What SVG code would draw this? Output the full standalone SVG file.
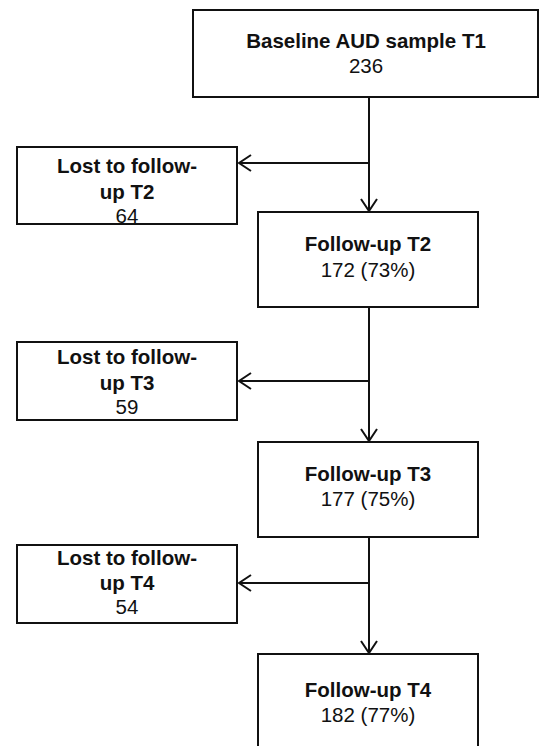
<svg xmlns="http://www.w3.org/2000/svg" width="541" height="746" viewBox="0 0 541 746">
<defs>
<marker id="arr" viewBox="0 0 14 18" refX="13" refY="9" markerWidth="14" markerHeight="18" markerUnits="userSpaceOnUse" orient="auto">
<path d="M1,1 L13,9 L1,17" fill="none" stroke="#111" stroke-width="2"/>
</marker>
<style>
.box{fill:#fff;stroke:#111;stroke-width:2}
.b{font-family:"Liberation Sans",Arial,sans-serif;font-weight:bold;font-size:20.5px;fill:#111;text-anchor:middle}
.r{font-family:"Liberation Sans",Arial,sans-serif;font-size:20.5px;fill:#111;text-anchor:middle}
.c{fill:none;stroke:#111;stroke-width:2}
</style>
</defs>
<rect width="541" height="746" fill="#fff"/>
<g id="connectors">
<line class="c" x1="369" y1="97" x2="369" y2="211" marker-end="url(#arr)"/>
<line class="c" x1="369" y1="163" x2="239" y2="163" marker-end="url(#arr)"/>
<line class="c" x1="369" y1="307" x2="369" y2="441" marker-end="url(#arr)"/>
<line class="c" x1="369" y1="381" x2="239" y2="381" marker-end="url(#arr)"/>
<line class="c" x1="369" y1="537" x2="369" y2="653" marker-end="url(#arr)"/>
<line class="c" x1="369" y1="583" x2="239" y2="583" marker-end="url(#arr)"/>
</g>
<g id="baseline">
<rect class="box" x="193" y="10" width="345" height="87"/>
<text class="b" x="366" y="48">Baseline AUD sample T1</text>
<text class="r" x="366" y="73">236</text>
</g>
<g id="lost-t2">
<rect class="box" x="17" y="147" width="220" height="77"/>
<text class="b" x="127" y="173">Lost to follow-</text>
<text class="b" x="127" y="199">up T2</text>
<text class="r" x="127" y="223">64</text>
</g>
<g id="followup-t2">
<rect class="box" x="258" y="212" width="220" height="95"/>
<text class="b" x="368" y="251">Follow-up T2</text>
<text class="r" x="368" y="277">172 (73%)</text>
</g>
<g id="lost-t3">
<rect class="box" x="17" y="342" width="220" height="78"/>
<text class="b" x="127" y="364">Lost to follow-</text>
<text class="b" x="127" y="390">up T3</text>
<text class="r" x="127" y="414">59</text>
</g>
<g id="followup-t3">
<rect class="box" x="258" y="442" width="220" height="95"/>
<text class="b" x="368" y="481">Follow-up T3</text>
<text class="r" x="368" y="506">177 (75%)</text>
</g>
<g id="lost-t4">
<rect class="box" x="17" y="545" width="220" height="78"/>
<text class="b" x="127" y="565">Lost to follow-</text>
<text class="b" x="127" y="590">up T4</text>
<text class="r" x="127" y="614">54</text>
</g>
<g id="followup-t4">
<rect class="box" x="258" y="654" width="220" height="100"/>
<text class="b" x="368" y="697">Follow-up T4</text>
<text class="r" x="368" y="722">182 (77%)</text>
</g>
</svg>
